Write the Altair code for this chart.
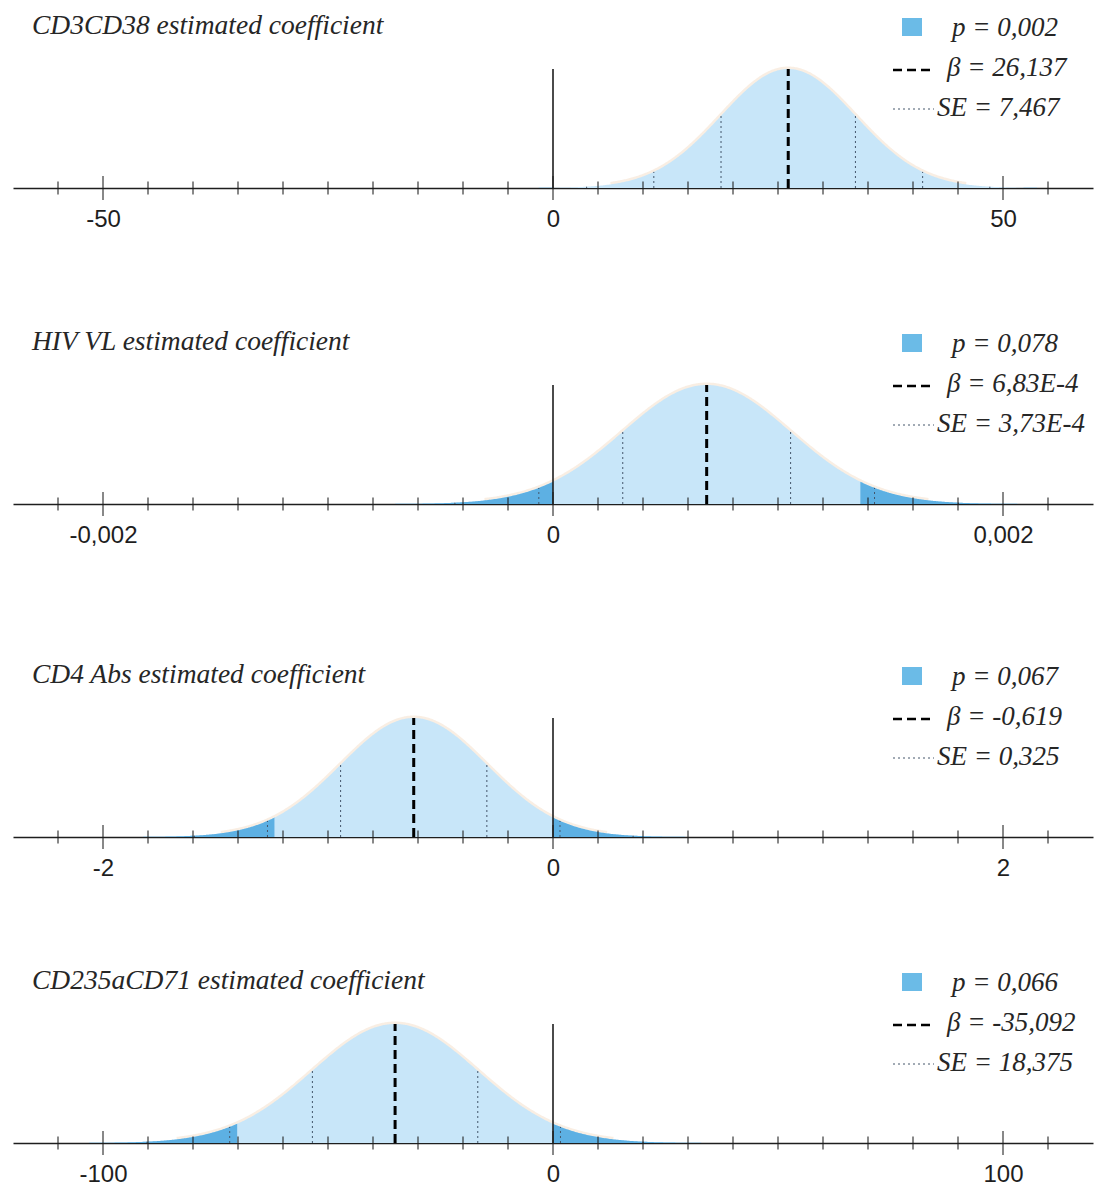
import numpy as np
import pandas as pd
import altair as alt

# Regression coefficients shown as normal curves (estimate ± standard error)
titles = [
    "CD3CD38 estimated coefficient",
    "HIV VL estimated coefficient",
    "CD4 Abs estimated coefficient",
    "CD235aCD71 estimated coefficient",
]
betas = [26.137, 6.83e-4, -0.619, -35.092]
ses = [7.467, 3.73e-4, 0.325, 18.375]
p_labels = ["p = 0,002", "p = 0,078", "p = 0,067", "p = 0,066"]
beta_labels = ["β = 26,137", "β = 6,83E-4", "β = -0,619", "β = -35,092"]
se_labels = ["SE = 7,467", "SE = 3,73E-4", "SE = 0,325", "SE = 18,375"]

# Axis setup per panel
x_limits = [60, 0.0024, 2.4, 120]
tick_steps = [5, 0.0002, 0.2, 10]
label_values = [[-50, 0, 50], [-0.002, 0, 0.002], [-2, 0, 2], [-100, 0, 100]]
se_multiples = [-3, -2, -1, 1, 2, 3]

# Layout (pixels)
WIDTH = 1080
PEAK_PX = 119
AXIS_EXTENT = 45
panel_heights = [188, 271, 288, 261]

LIGHT = "#c8e6f9"
DARK = "#5db0e3"
SWATCH = "#6bbbe7"
INK = "#1e1e1e"
SERIF = "Liberation Serif"
SANS = "Liberation Sans"


def density(x, beta, se):
    # normal curve scaled so the peak equals 1
    return np.exp(-0.5 * ((x - beta) / se) ** 2)


def make_panel(i):
    beta, se, lim = betas[i], ses[i], x_limits[i]
    h = panel_heights[i]
    ymax = h / PEAK_PX

    xs = np.linspace(-lim, lim, 1201)
    curve = pd.DataFrame({"x": xs, "y": density(xs, beta, se)})

    lo_cut, hi_cut = min(0.0, 2 * beta), max(0.0, 2 * beta)
    left = np.linspace(-lim, lo_cut, 400)
    right = np.linspace(hi_cut, lim, 400)
    left_tail = pd.DataFrame({"x": left, "y": density(left, beta, se)})
    right_tail = pd.DataFrame({"x": right, "y": density(right, beta, se)})

    halo = curve[curve["y"] > 0.03]

    se_x = np.array([beta + k * se for k in se_multiples])
    se_lines = pd.DataFrame({"x": se_x, "y0": 0.0, "y1": density(se_x, beta, se)})

    n = int(round(lim / tick_steps[i]))
    tick_vals = [k * tick_steps[i] for k in range(-n + 1, n)]
    major_vals = set(round(v / tick_steps[i]) for v in label_values[i])
    ticks = pd.DataFrame({
        "x": tick_vals,
        "y": 0.0,
        "major": [round(v / tick_steps[i]) in major_vals for v in tick_vals],
    })

    xscale = alt.Scale(domain=[-lim, lim], nice=False, zero=False)
    yscale = alt.Scale(domain=[0, ymax], nice=False, zero=False)

    x_axis = alt.Axis(
        values=label_values[i],
        labelExpr="replace(toString(datum.value), '.', ',')",
        ticks=False,
        grid=False,
        domain=True,
        domainColor=INK,
        domainWidth=1.6,
        labelFont=SANS,
        labelFontSize=24,
        labelColor=INK,
        labelPadding=19,
        labelFlush=False,
        title=None,
        minExtent=AXIS_EXTENT,
        maxExtent=AXIS_EXTENT,
    )

    def X():
        return alt.X("x:Q", scale=xscale, axis=x_axis)

    def Y(field):
        return alt.Y(field, scale=yscale, axis=None)

    glow = alt.Chart(halo).mark_line(
        stroke="#efcdb0", strokeWidth=5, opacity=0.35
    ).encode(x=X(), y=Y("y:Q"))

    body = alt.Chart(curve).mark_area(color=LIGHT).encode(x=X(), y=Y("y:Q"))

    tail_l = alt.Chart(left_tail).mark_area(color=DARK).encode(x=X(), y=Y("y:Q"))
    tail_r = alt.Chart(right_tail).mark_area(color=DARK).encode(x=X(), y=Y("y:Q"))

    se_rules = alt.Chart(se_lines).mark_rule(
        color="#44566b", strokeWidth=1, strokeDash=[2, 3]
    ).encode(x=X(), y=Y("y0:Q"), y2="y1:Q")

    beta_rule = alt.Chart(pd.DataFrame({"x": [beta], "y0": [0.0], "y1": [1.0]})).mark_rule(
        color="#000000", strokeWidth=3, strokeDash=[9, 5]
    ).encode(x=X(), y=Y("y0:Q"), y2="y1:Q")

    zero_rule = alt.Chart(pd.DataFrame({"x": [0.0], "y0": [0.0], "y1": [1.0]})).mark_rule(
        color=INK, strokeWidth=1.6
    ).encode(x=X(), y=Y("y0:Q"), y2="y1:Q")

    minor_ticks = alt.Chart(ticks[~ticks["major"]]).mark_tick(
        orient="vertical", color=INK, size=13, thickness=1.5
    ).encode(x=X(), y=Y("y:Q"))

    major_ticks = alt.Chart(ticks[ticks["major"]]).mark_tick(
        orient="vertical", color=INK, size=24, thickness=1.5
    ).encode(x=X(), y=Y("y:Q"))

    def text_layer(label, x, up, size=27):
        return alt.Chart(pd.DataFrame({"t": [label]})).mark_text(
            font=SERIF, fontStyle="italic", fontSize=size, color="#262626",
            align="left", baseline="alphabetic",
        ).encode(text="t:N", x=alt.value(x), y=alt.value(h - up))

    title = text_layer(titles[i], 19, 154, size=27.5)
    p_text = text_layer(p_labels[i], 939, 152)
    b_text = text_layer(beta_labels[i], 934, 112)
    s_text = text_layer(se_labels[i], 924, 72)

    swatch = alt.Chart(pd.DataFrame({"t": ["p"]})).mark_rect(color=SWATCH).encode(
        x=alt.value(889), x2=alt.value(909), y=alt.value(h - 170), y2=alt.value(h - 152)
    )
    dash_key = alt.Chart(pd.DataFrame({"t": ["beta"]})).mark_rule(
        color="#000000", strokeWidth=2.5, strokeDash=[9, 5]
    ).encode(x=alt.value(880), x2=alt.value(917), y=alt.value(h - 118))
    dot_key = alt.Chart(pd.DataFrame({"t": ["se"]})).mark_rule(
        color="#44566b", strokeWidth=1, strokeDash=[2, 3]
    ).encode(x=alt.value(880), x2=alt.value(921), y=alt.value(h - 79))

    return alt.layer(
        glow, body, tail_l, tail_r, se_rules, beta_rule, zero_rule, minor_ticks, major_ticks,
        title, p_text, b_text, s_text, swatch, dash_key, dot_key,
    ).properties(width=WIDTH, height=h)


chart = alt.vconcat(*[make_panel(i) for i in range(4)], spacing=0).properties(
    padding={"left": 13, "top": 0, "right": 3, "bottom": 0},
    background="#ffffff",
).configure_view(stroke=None)

chart.save("out.html", embed_options={"renderer": "svg", "actions": False})
